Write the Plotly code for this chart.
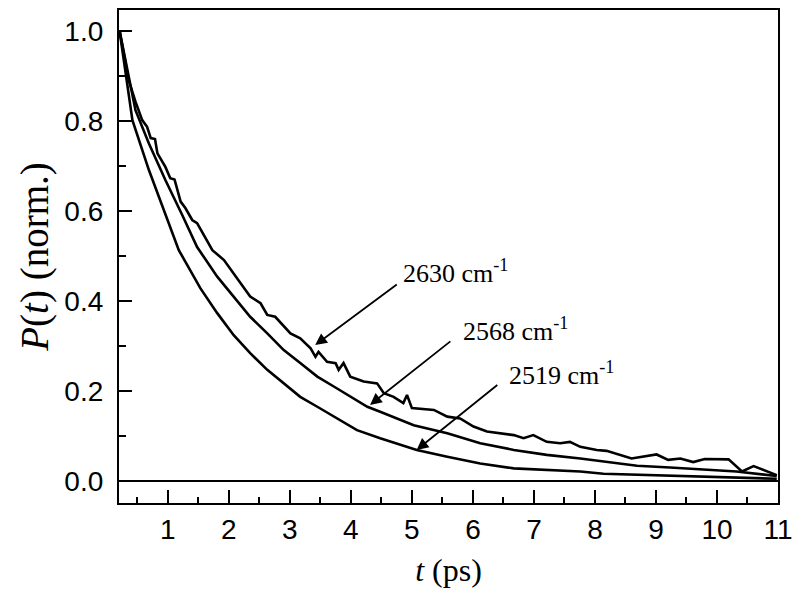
import plotly.graph_objects as go

# --- data ---
t_2630 = [0.21, 0.36, 0.47, 0.58, 0.66, 0.72, 0.79, 0.83, 0.96, 1.04, 1.11, 1.21, 1.29, 1.40, 1.48,
          1.62, 1.73, 1.92, 2.08, 2.35, 2.52, 2.63, 2.76, 3.01, 3.17, 3.34, 3.42, 3.47, 3.61, 3.75,
          3.80, 3.88, 3.99, 4.21, 4.43, 4.54, 4.70, 4.86, 4.92, 5.00, 5.36, 5.58, 5.79, 6.01, 6.23,
          6.45, 6.67, 6.83, 6.99, 7.21, 7.43, 7.59, 7.76, 8.03, 8.19, 8.60, 9.01, 9.20, 9.40, 9.61,
          9.80, 10.19, 10.41, 10.60, 10.98]
p_2630 = [1.0, 0.89, 0.843, 0.802, 0.787, 0.762, 0.760, 0.728, 0.698, 0.673, 0.670, 0.621, 0.606,
          0.58, 0.573, 0.539, 0.513, 0.491, 0.461, 0.41, 0.395, 0.369, 0.365, 0.328, 0.317, 0.295,
          0.276, 0.287, 0.265, 0.262, 0.247, 0.262, 0.232, 0.221, 0.217, 0.195, 0.187, 0.173, 0.191,
          0.162, 0.158, 0.143, 0.139, 0.121, 0.110, 0.106, 0.102, 0.095, 0.102, 0.087, 0.084, 0.087,
          0.076, 0.069, 0.067, 0.050, 0.059, 0.047, 0.050, 0.042, 0.049, 0.048, 0.021, 0.033, 0.013]

t_2568 = [0.21, 0.47, 0.69, 0.96, 1.24, 1.48, 1.81, 2.08, 2.35, 2.63, 2.90, 3.17, 3.45, 3.72, 3.99,
          4.27, 4.48, 4.76, 5.03, 5.58, 6.12, 6.67, 7.21, 7.76, 8.14, 8.69, 9.23, 9.78, 10.32, 10.98]
p_2568 = [1.0, 0.824, 0.750, 0.669, 0.59, 0.52, 0.454, 0.41, 0.365, 0.328, 0.291, 0.262, 0.232,
          0.21, 0.187, 0.165, 0.154, 0.139, 0.124, 0.106, 0.084, 0.069, 0.058, 0.050, 0.043, 0.034,
          0.030, 0.026, 0.021, 0.011]

t_2519 = [0.21, 0.42, 0.69, 0.96, 1.18, 1.535, 1.81, 2.08, 2.35, 2.63, 2.90, 3.17, 3.45, 3.72, 4.10,
          4.48, 5.08, 5.58, 6.12, 6.67, 7.21, 7.76, 8.14, 9.23, 10.32, 10.98]
p_2519 = [1.0, 0.802, 0.691, 0.595, 0.513, 0.428, 0.373, 0.324, 0.284, 0.247, 0.217, 0.187, 0.165,
          0.143, 0.113, 0.095, 0.069, 0.054, 0.039, 0.028, 0.024, 0.021, 0.016, 0.012, 0.008, 0.005]

labels = ["2630 cm<sup>-1</sup>", "2568 cm<sup>-1</sup>", "2519 cm<sup>-1</sup>"]

SERIF = "Liberation Serif, Times New Roman, serif"
SANS = "Liberation Sans, Arial, sans-serif"

fig = go.Figure()
for tt, pp in [(t_2630, p_2630), (t_2568, p_2568), (t_2519, p_2519)]:
    fig.add_trace(go.Scatter(x=tt, y=pp, mode="lines",
                             line=dict(color="black", width=2.6), showlegend=False))

# zero line
fig.add_hline(y=0, line=dict(color="black", width=2))

# arrows (tail -> tip) and labels
arrows = [((4.777, 0.439), (3.415, 0.302)),
          ((5.655, 0.313), (4.314, 0.169)),
          ((6.424, 0.216), (5.078, 0.069))]
label_pos = [(4.82, 0.465), (5.80, 0.336), (6.56, 0.240)]
for (tail, tip), lab, lp in zip(arrows, labels, label_pos):
    fig.add_annotation(x=tip[0], y=tip[1], ax=tail[0], ay=tail[1], xref="x", yref="y",
                       axref="x", ayref="y", text="", showarrow=True, arrowhead=2,
                       arrowsize=1.3, arrowwidth=1.8, arrowcolor="black", standoff=0)
    fig.add_annotation(x=lp[0], y=lp[1], xref="x", yref="y", text=lab, showarrow=False,
                       xanchor="left", yanchor="middle",
                       font=dict(family=SERIF, size=26, color="black"))

axis_common = dict(showline=True, linecolor="black", linewidth=2.2, mirror=True,
                   ticks="inside", tickcolor="black", tickwidth=2, showgrid=False,
                   zeroline=False, automargin=False,
                   tickfont=dict(family=SANS, size=28, color="black"))

fig.update_xaxes(range=[0.2, 11], tick0=0, dtick=1, ticklen=13,
                 minor=dict(ticks="inside", dtick=0.5, tick0=0, ticklen=6, tickwidth=2,
                            tickcolor="black"),
                 ticklabelstandoff=0,
                 title=dict(text="<i>t</i> (ps)", font=dict(family=SERIF, size=32, color="black"),
                            standoff=15),
                 **axis_common)
fig.update_yaxes(range=[-0.0489, 1.0467], tick0=0, dtick=0.2, ticklen=13, tickformat=".1f",
                 minor=dict(ticks="inside", dtick=0.1, tick0=0, ticklen=7, tickwidth=2,
                            tickcolor="black"),
                 ticklabelstandoff=8,
                 title=dict(text="<i>P</i>(<i>t</i>) (norm.)",
                            font=dict(family=SERIF, size=39, color="black"), standoff=4),
                 **axis_common)

fig.update_layout(width=800, height=595, plot_bgcolor="white", paper_bgcolor="white",
                  margin=dict(l=111, r=30, t=2, b=100))

fig.write_html("out.html")
